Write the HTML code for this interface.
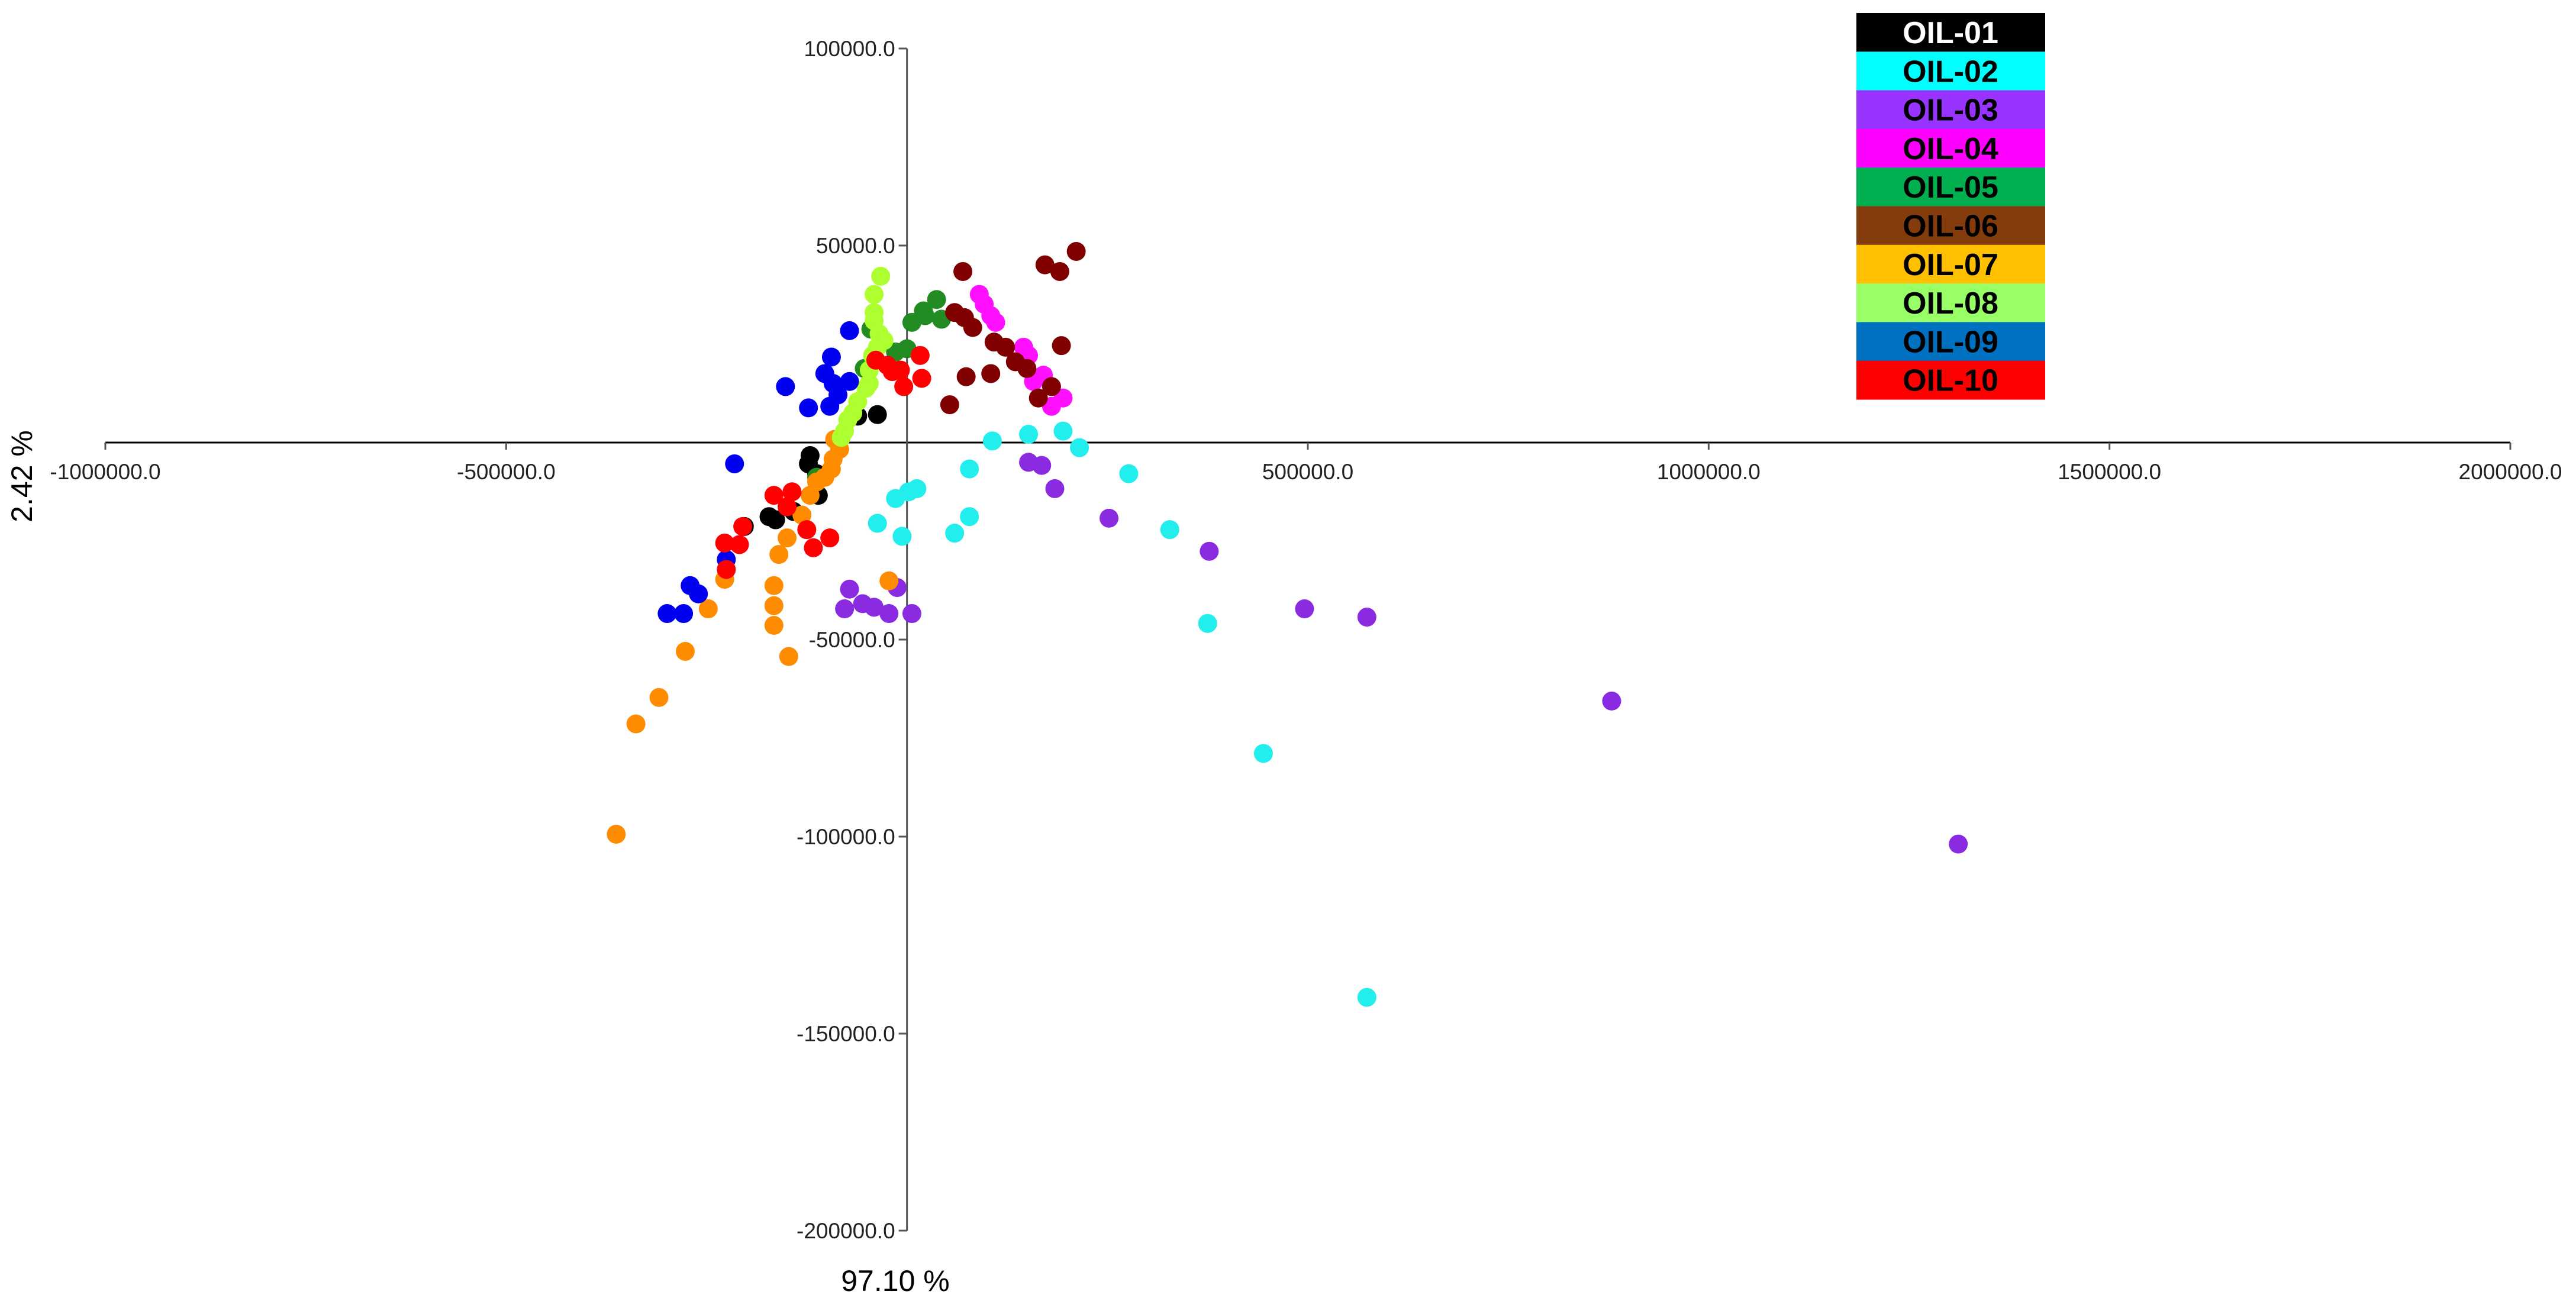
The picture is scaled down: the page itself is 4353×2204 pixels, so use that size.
<!DOCTYPE html>
<html><head><meta charset="utf-8"><style>
html,body{margin:0;padding:0;background:#fff;}
svg{display:block;font-family:"Liberation Sans",Arial,sans-serif;}
</style></head><body>
<svg id="chart" width="4353" height="2204" viewBox="0 0 4353 2204" xmlns="http://www.w3.org/2000/svg">
<g id="axes"></g>
<g id="points"></g>
<g id="legend"></g>
<text x="0" y="0" transform="translate(54,805) rotate(-90)" text-anchor="middle" font-size="50" fill="#000">2.42 %</text>
<text x="1513" y="2182" text-anchor="middle" font-size="50" fill="#000">97.10 %</text>
</svg>
<script>
const seriesNames = ["OIL-01","OIL-02","OIL-03","OIL-04","OIL-05","OIL-06","OIL-07","OIL-08","OIL-09","OIL-10"];
const pointColors = ["#000000","#22eeee","#8a2be2","#ff11ff","#228b22","#800000","#ff8c00","#adff2f","#0000f0","#ff0000"];
const legendColors = ["#000000","#00ffff","#9933ff","#ff00ff","#00b050","#843c0c","#ffc000","#99ff66","#0070c0","#ff0000"];
const legendTextColors = ["#ffffff","#000","#000","#000","#000","#000","#000","#000","#000","#000"];
const xTicks = [-1000000,-500000,0,500000,1000000,1500000,2000000];
const xTickLabels = ["-1000000.0","-500000.0","","500000.0","1000000.0","1500000.0","2000000.0"];
const yTicks = [100000,50000,-50000,-100000,-150000,-200000];
const yTickLabels = ["100000.0","50000.0","-50000.0","-100000.0","-150000.0","-200000.0"];
const oil01 = [[-36900,7100],[-61500,6700],[-120900,-3300],[-123000,-5400],[-112700,-7900],[-110600,-13400],[-172100,-18800],[-163900,-19600],[-202900,-21300],[-141400,-17500]];
const oil02 = [[106500,400],[151600,2100],[194700,2900],[215100,-1300],[77900,-6700],[276600,-7900],[327800,-22100],[77900,-18800],[59400,-23000],[-36900,-20500],[-6100,-23800],[-14300,-14200],[2000,-12500],[12300,-11700],[375000,-45900],[444600,-78900],[573700,-140800]];
const oil03 = [[151600,-5000],[168000,-5800],[184400,-11700],[252000,-19200],[377000,-27600],[495900,-42200],[573700,-44300],[879000,-65600],[1311400,-101900],[-71700,-37200],[-77900,-42200],[-55300,-40900],[-41000,-41800],[-22500,-43400],[-12300,-36800],[6100,-43400]];
const oil04 = [[90200,37600],[96300,35100],[104500,32200],[110600,30500],[145500,24200],[151600,22100],[170100,17100],[157800,15500],[194700,11300],[180300,9200]];
const oil05 = [[6100,30500],[20500,33400],[36900,36300],[43000,31300],[22500,32200],[0,23800],[-14300,23000],[-53300,18800],[-45100,28800],[-112700,-8800]];
const oil06 = [[69700,43400],[172100,45100],[190600,43400],[211100,48500],[192600,24600],[59400,33000],[71700,31700],[82000,29200],[108600,25500],[122900,24200],[135200,20500],[149600,18800],[73800,16700],[104500,17500],[53300,9600],[163900,11300],[180300,14200]];
const oil07 = [[-90200,800],[-84000,-1700],[-92200,-4200],[-94300,-6700],[-102500,-8800],[-112700,-10000],[-120900,-13400],[-131100,-18400],[-149600,-24200],[-159800,-28400],[-227400,-34700],[-247900,-42200],[-166000,-36300],[-166000,-41400],[-166000,-46400],[-147500,-54300],[-276600,-53000],[-22500,-35100],[-309400,-64700],[-338100,-71400],[-362700,-99400]];
const oil08 = [[-32800,42200],[-41000,37600],[-41000,33000],[-41000,30900],[-34800,27600],[-28700,25900],[-36900,24200],[-43000,22100],[-47100,18400],[-47100,15000],[-51200,13800],[-61500,10400],[-67600,7500],[-73800,5800],[-77900,2900],[-82000,1300]];
const oil09 = [[-71700,28400],[-151600,14200],[-94300,21700],[-102500,17500],[-92200,15000],[-71700,15500],[-86100,12100],[-122900,8800],[-96300,9200],[-215100,-5400],[-225400,-29700],[-270500,-36300],[-260200,-38400],[-299200,-43400],[-278700,-43400]];
const oil10 = [[-38900,20900],[-24600,19600],[-8200,18400],[16400,22100],[18400,16300],[-4100,14200],[-18400,18000],[-166000,-13400],[-143400,-12500],[-149600,-16300],[-204900,-21300],[-227400,-25500],[-209000,-25900],[-225400,-32200],[-125000,-22100],[-116800,-26700],[-96300,-24200]];
const allSeries = [oil01,oil02,oil03,oil04,oil05,oil06,oil07,oil08,oil09,oil10];

const NS="http://www.w3.org/2000/svg";
function xScale(v){return 178+(v+1000000)/3000000*4064;}
function yScale(v){return 748-v/50000*333;}
function mk(tag,attrs,parent){const e=document.createElementNS(NS,tag);for(const k in attrs)e.setAttribute(k,attrs[k]);parent.appendChild(e);return e;}

const axes=document.getElementById('axes');
const xl=mk('line',{x1:xScale(-1000000),x2:xScale(2000000),y1:yScale(0),y2:yScale(0),stroke:'#000','stroke-width':3},axes);


const yl=mk('line',{x1:xScale(0),x2:xScale(0),y1:yScale(100000),y2:yScale(-200000),stroke:'#555','stroke-width':3},axes);


xTicks.forEach((t,i)=>{
  const tk=mk('line',{x1:xScale(t),x2:xScale(t),y1:yScale(0),y2:yScale(0)+12,stroke:'#555','stroke-width':3},axes);
  
  
  if(xTickLabels[i]){
    const tx=mk('text',{x:xScale(t),y:yScale(0)+62,'text-anchor':'middle','font-size':37,fill:'#222'},axes);
    tx.textContent=xTickLabels[i];
    
    
  }
});
yTicks.forEach((t,i)=>{
  const tk=mk('line',{x1:xScale(0)-14,x2:xScale(0),y1:yScale(t),y2:yScale(t),stroke:'#555','stroke-width':3},axes);
  
  
  const tx=mk('text',{x:xScale(0)-20,y:yScale(t)+13,'text-anchor':'end','font-size':37,fill:'#222'},axes);
  tx.textContent=yTickLabels[i];
  
  
});

const pts=document.getElementById('points');
allSeries.forEach((s,si)=>{
  const g=mk('g',{},pts);
  
  
  s.forEach(p=>{
    const c=mk('circle',{cx:xScale(p[0]),cy:yScale(p[1]),r:16,fill:pointColors[si]},g);
    
    
  });
});

const lg=document.getElementById('legend');
const rowH=65.3;
seriesNames.forEach((n,i)=>{
  const g=mk('g',{},lg);
  
  
  mk('rect',{x:3137,y:22+i*rowH,width:319,height:rowH+0.5,fill:legendColors[i]},g);
  const t=mk('text',{x:3296,y:22+i*rowH+51,'text-anchor':'middle','font-size':52,'font-weight':'bold',fill:legendTextColors[i]},g);
  t.textContent=n;
  
  
});
</script>
</body></html>
